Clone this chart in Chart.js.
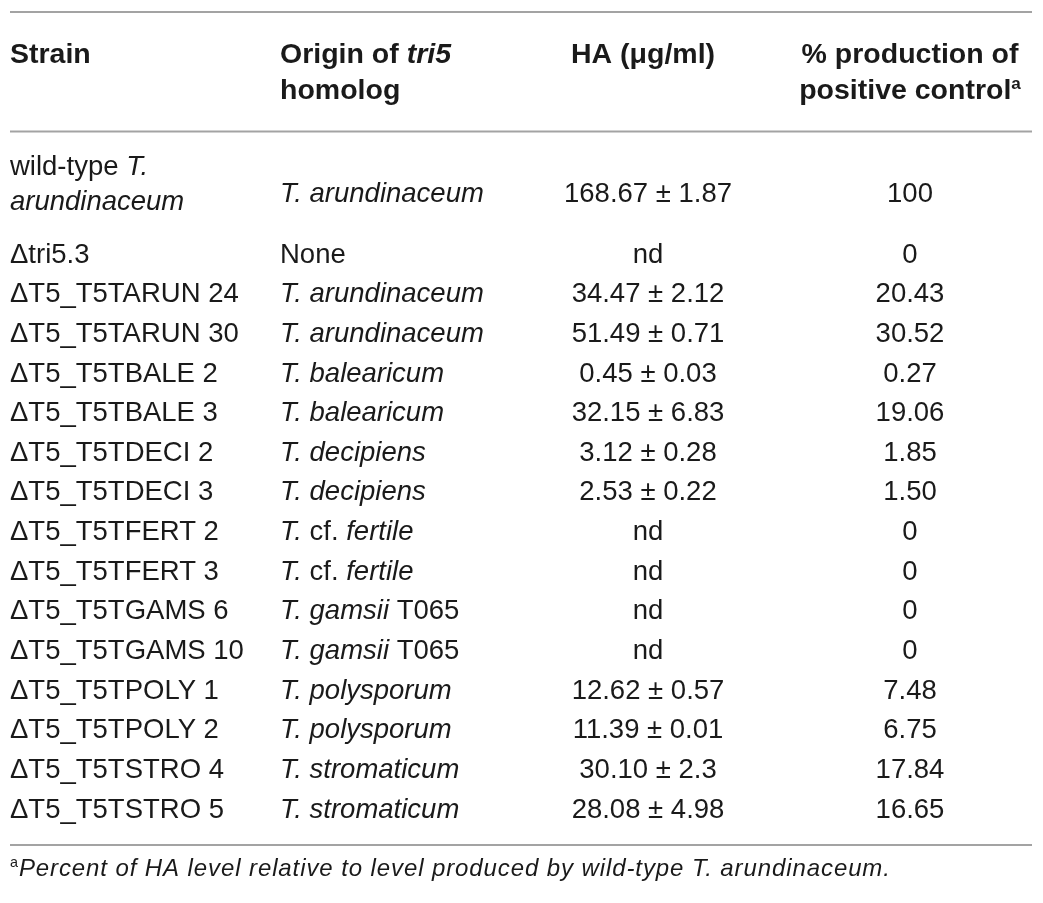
<!DOCTYPE html>
<html>
<head>
<meta charset="utf-8">
<script src="https://cdn.jsdelivr.net/npm/chart.js@4"></script>
<style>
html,body{margin:0;padding:0;background:#fff;}
#wrap{width:1043px;height:903px;}
</style>
</head>
<body>
<div id="wrap"><canvas id="tbl" width="1043" height="903"></canvas></div>
<script>
// table content; *...* = italic, ^...^ = superscript
const headers=['Strain','Origin of *tri5*\nhomolog','HA (μg/ml)','% production of\npositive control^a^'];
const strains=['wild-type *T.*\n*arundinaceum*','Δtri5.3','ΔT5_T5TARUN 24','ΔT5_T5TARUN 30','ΔT5_T5TBALE 2','ΔT5_T5TBALE 3','ΔT5_T5TDECI 2','ΔT5_T5TDECI 3','ΔT5_T5TFERT 2','ΔT5_T5TFERT 3','ΔT5_T5TGAMS 6','ΔT5_T5TGAMS 10','ΔT5_T5TPOLY 1','ΔT5_T5TPOLY 2','ΔT5_T5TSTRO 4','ΔT5_T5TSTRO 5'];
const origins=['*T. arundinaceum*','None','*T. arundinaceum*','*T. arundinaceum*','*T. balearicum*','*T. balearicum*','*T. decipiens*','*T. decipiens*','*T.* cf. *fertile*','*T.* cf. *fertile*','*T. gamsii* T065','*T. gamsii* T065','*T. polysporum*','*T. polysporum*','*T. stromaticum*','*T. stromaticum*'];
const haMean=['168.67',null,'34.47','51.49','0.45','32.15','3.12','2.53',null,null,null,null,'12.62','11.39','30.10','28.08'];
const haSd=['1.87',null,'2.12','0.71','0.03','6.83','0.28','0.22',null,null,null,null,'0.57','0.01','2.3','4.98'];
const pctControl=['100','0','20.43','30.52','0.27','19.06','1.85','1.50','0','0','0','0','7.48','6.75','17.84','16.65'];
const footnote='^a^*Percent of HA level relative to level produced by wild-type T. arundinaceum.*';

// layout (pixel units of the hidden linear scales)
const colX=[10,280,648,910],colAlign=['left','left','center','center'];
const headX=[10,280,643,910];
const headY=63,headStep=36,row0Y=202,bodyY0=262.6,rowStep=39.64;
const FS=27.5,HFS=28.5,FONT='"Liberation Sans", Arial, sans-serif';

const haText=haMean.map((m,i)=>m===null?'nd':`${m} ± ${haSd[i]}`);
const cols=[strains,origins,haText,pctControl];
const rowY=i=>i===0?row0Y:bodyY0+(i-1)*rowStep;

function segs(str){
  const out=[];let it=false,sup=false,buf='';
  for(const ch of str){
    if(ch==='*'||ch==='^'){if(buf)out.push({t:buf,it,sup});buf='';if(ch==='*')it=!it;else sup=!sup;}
    else buf+=ch;
  }
  if(buf)out.push({t:buf,it,sup});
  return out;
}
function font(s,size,bold){return `${s.it?'italic ':''}${bold?'bold ':''}${s.sup?size*0.6:size}px ${FONT}`;}
function drawRich(ctx,str,x,y,align,size,bold){
  const ss=segs(str);let w=0;
  ss.forEach(s=>{ctx.font=font(s,size,bold);s.w=ctx.measureText(s.t).width;w+=s.w;});
  let cx=align==='center'?x-w/2:x;
  ss.forEach(s=>{ctx.font=font(s,size,bold);ctx.fillText(s.t,cx,s.sup?y-size*0.36:y);cx+=s.w;});
}

const tablePlugin={
  id:'tablePlugin',
  afterDatasetsDraw(chart){
    const ctx=chart.ctx,xs=chart.scales.x,ys=chart.scales.y;
    ctx.save();
    ctx.textBaseline='alphabetic';ctx.textAlign='left';ctx.fillStyle='#1a1a1a';
    // rules
    ctx.strokeStyle='#a3a3a3';ctx.lineWidth=2;
    [12,131.5,845].forEach(v=>{ctx.beginPath();ctx.moveTo(xs.getPixelForValue(10),ys.getPixelForValue(v));ctx.lineTo(xs.getPixelForValue(1032),ys.getPixelForValue(v));ctx.stroke();});
    // header
    headers.forEach((h,c)=>{
      h.split('\n').forEach((ln,k)=>drawRich(ctx,ln,xs.getPixelForValue(headX[c]),ys.getPixelForValue(headY+k*headStep),colAlign[c],HFS,true));
    });
    // body cells from dataset elements
    chart.data.datasets.forEach((ds,c)=>{
      chart.getDatasetMeta(c).data.forEach((pt,i)=>{
        const lines=cols[c][i].split('\n');
        lines.forEach((ln,k)=>drawRich(ctx,ln,pt.x,pt.y-(lines.length-1)*27+k*35,colAlign[c],FS,false));
      });
    });
    ctx.letterSpacing='0.9px';
    drawRich(ctx,footnote,xs.getPixelForValue(10),ys.getPixelForValue(876),'left',24,false);
    ctx.letterSpacing='0px';
    ctx.restore();
  }
};

new Chart(document.getElementById('tbl'),{
  type:'scatter',
  data:{datasets:cols.map((col,c)=>({label:headers[c],data:col.map((v,i)=>({x:colX[c],y:rowY(i)})),pointRadius:0,pointHoverRadius:0}))},
  options:{
    responsive:false,animation:false,devicePixelRatio:1,
    layout:{padding:0},
    plugins:{legend:{display:false},tooltip:{enabled:false}},
    scales:{x:{type:'linear',min:0,max:1043,display:false},y:{type:'linear',min:0,max:903,reverse:true,display:false}}
  },
  plugins:[tablePlugin]
});
</script>
</body>
</html>
